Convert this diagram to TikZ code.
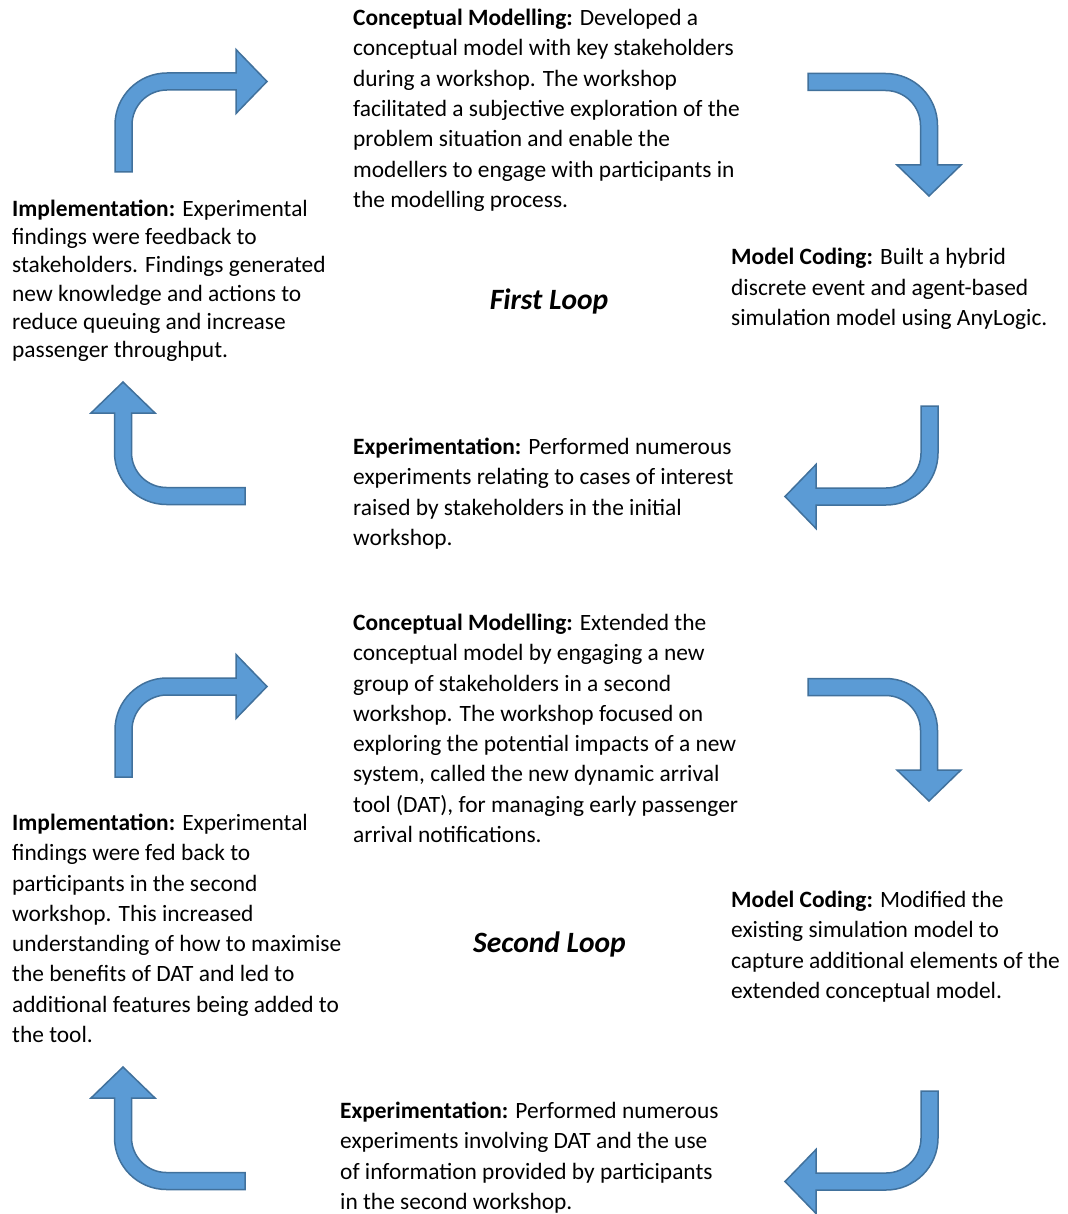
\documentclass[tikz,border=0pt]{standalone}
\usepackage{fontspec}
\setmainfont{Carlito}
\definecolor{arrfill}{HTML}{5B9BD5}
\definecolor{arrdraw}{HTML}{41719C}
\tikzset{
  arrowshape/.style={fill=arrfill, draw=arrdraw, line width=1.5pt, line join=miter},
  desc/.style={anchor=base west, inner sep=0pt, align=left, font=\fontsize{23.4}{30.3}\selectfont},
  desctight/.style={desc, font=\fontsize{23.4}{28.2}\selectfont},
  looptitle/.style={anchor=base, inner sep=0pt, font=\fontsize{29.5}{33}\selectfont\bfseries\itshape}
}
% #1 corner coordinate, #2 rotation, #3 stem length, #4 shaft length
\newcommand\bentarrow[4]{%
  \begin{scope}[shift={(#1)}, rotate=#2, x=1pt, y=1pt]
    \draw[arrowshape] (-8.5,-#3) -- (-8.5,-43.5)
      arc[start angle=180, end angle=90, radius=52]
      -- (#4,8.5) -- (#4,32) -- ({#4+31},0) -- (#4,-32) -- (#4,-8.5) -- (43.5,-8.5)
      arc[start angle=90, end angle=180, radius=35]
      -- (8.5,-#3) -- cycle;
  \end{scope}}
\begin{document}
\begin{tikzpicture}[x=1pt, y=-1pt]
\useasboundingbox[fill=white] (0,0) rectangle (1067,1214);

% corner coordinates of the bent arrows
\coordinate (c1) at (123.5,81.5);
\coordinate (c2) at (929,82);
\coordinate (c3) at (929.5,496.5);
\coordinate (c4) at (123,496);
\coordinate (d1) at (123.5,686.5);
\coordinate (d2) at (929,687);
\coordinate (d3) at (929.5,1181.5);
\coordinate (d4) at (123,1181);

\bentarrow{c1}{0}{90.5}{112.5}
\bentarrow{c2}{-90}{121}{83}
\bentarrow{c3}{180}{90.5}{113.5}
\bentarrow{c4}{90}{122}{83}
\bentarrow{d1}{0}{90.5}{112.5}
\bentarrow{d2}{-90}{121}{83}
\bentarrow{d3}{180}{90.5}{113.5}
\bentarrow{d4}{90}{122}{83}

% First loop (nodes anchored at the baseline of their last line)
\node[desc] (cm1) at (353,207.5) {\textbf{Conceptual Modelling:} Developed a\\
conceptual model with key stakeholders\\
during a workshop. The workshop\\
facilitated a subjective exploration of the\\
problem situation and enable the\\
modellers to engage with participants in\\
the modelling process.};

\node[desctight] (im1) at (12,357.5) {\textbf{Implementation:} Experimental\\
findings were feedback to\\
stakeholders. Findings generated\\
new knowledge and actions to\\
reduce queuing and increase\\
passenger throughput.};

\node[desc] (mc1) at (731,325.5) {\textbf{Model Coding:} Built a hybrid\\
discrete event and agent-based\\
simulation model using AnyLogic.};

\node[desc] (ex1) at (353,545.5) {\textbf{Experimentation:} Performed numerous\\
experiments relating to cases of interest\\
raised by stakeholders in the initial\\
workshop.};

\node[looptitle] (fl) at (549,309) {First Loop};

% Second loop
\node[desc] (cm2) at (353,842.5) {\textbf{Conceptual Modelling:} Extended the\\
conceptual model by engaging a new\\
group of stakeholders in a second\\
workshop. The workshop focused on\\
exploring the potential impacts of a new\\
system, called the new dynamic arrival\\
tool (DAT), for managing early passenger\\
arrival notifications.};

\node[desc] (im2) at (12,1042.5) {\textbf{Implementation:} Experimental\\
findings were fed back to\\
participants in the second\\
workshop. This increased\\
understanding of how to maximise\\
the benefits of DAT and led to\\
additional features being added to\\
the tool.};

\node[desc] (mc2) at (731,998.5) {\textbf{Model Coding:} Modified the\\
existing simulation model to\\
capture additional elements of the\\
extended conceptual model.};

\node[desc] (ex2) at (340,1209.5) {\textbf{Experimentation:} Performed numerous\\
experiments involving DAT and the use\\
of information provided by participants\\
in the second workshop.};

\node[looptitle] (sl) at (549.5,952) {Second Loop};
\end{tikzpicture}
\end{document}
